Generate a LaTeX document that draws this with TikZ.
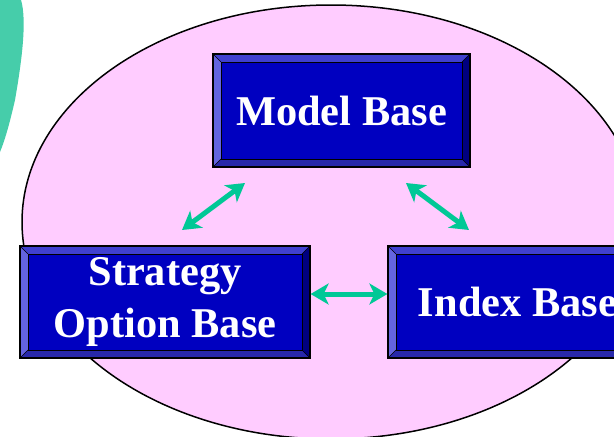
\documentclass[tikz,border=0pt]{standalone}
\usepackage{fontspec}
\setmainfont{Liberation Serif}
\usetikzlibrary{arrows.meta,calc}
\definecolor{pinkbg}{RGB}{255,204,255}
\definecolor{face}{RGB}{0,0,192}
\definecolor{bevT}{RGB}{64,64,208}
\definecolor{bevL}{RGB}{100,100,224}
\definecolor{bevR}{RGB}{0,0,128}
\definecolor{bevB}{RGB}{40,40,170}
\definecolor{arrowc}{RGB}{0,200,150}
\definecolor{splash}{RGB}{70,205,170}
\tikzset{
  bevelbox/.style={draw=black, line width=1.2pt, fill=face, text=white,
    font=\bfseries\fontsize{42.4}{52}\selectfont, align=center, inner sep=0pt,
    path picture={
      \coordinate (NW) at (path picture bounding box.north west);
      \coordinate (NE) at (path picture bounding box.north east);
      \coordinate (SW) at (path picture bounding box.south west);
      \coordinate (SE) at (path picture bounding box.south east);
      \coordinate (iNW) at ($(NW)+(8pt,-8pt)$);
      \coordinate (iNE) at ($(NE)+(-8pt,-8pt)$);
      \coordinate (iSW) at ($(SW)+(8pt,8pt)$);
      \coordinate (iSE) at ($(SE)+(-8pt,8pt)$);
      \fill[bevT] (NW) -- (NE) -- (iNE) -- (iNW) -- cycle;
      \fill[bevL] (NW) -- (SW) -- (iSW) -- (iNW) -- cycle;
      \fill[bevR] (NE) -- (SE) -- (iSE) -- (iNE) -- cycle;
      \fill[bevB] (SW) -- (SE) -- (iSE) -- (iSW) -- cycle;
      \draw[black, line width=0.9pt] (iNW) rectangle (iSE);
      \draw[black, line width=0.6pt] (NW) -- (iNW) (NE) -- (iNE) (SW) -- (iSW) (SE) -- (iSE);
    }},
  conn/.style={draw=arrowc, line width=5pt,
    {Stealth[length=18pt,width=21pt,inset=5pt]}-{Stealth[length=18pt,width=21pt,inset=5pt]}}
}
\begin{document}
\begin{tikzpicture}[x=1pt,y=-1pt]
\useasboundingbox (0,0) rectangle (614,437);
\clip (0,0) rectangle (614,437);
\fill[splash] (0,0) -- (21,0) .. controls (27,20) and (22,60) .. (15,100) .. controls (10,122) and (5,140) .. (0,152) -- cycle;
\draw[fill=pinkbg, line width=1.5pt] (331,222) ellipse [x radius=309, y radius=217];
\node[bevelbox, minimum width=257pt, minimum height=113pt] (model) at (341.5,110.5) {Model Base};
\node[bevelbox, minimum width=290pt, minimum height=112pt] (strat) at (165,302) {Strategy\\Option Base};
\node[bevelbox, minimum width=259pt, minimum height=112pt] (index) at (517.5,302) {Index Base};
\coordinate (a1s) at (182,230);
\coordinate (a1e) at (245,183);
\coordinate (a2s) at (406,183);
\coordinate (a2e) at (469,230);
\draw[conn] (a1s) -- (a1e);
\draw[conn] (a2s) -- (a2e);
\draw[conn] ([yshift=8pt]strat.east) -- ([yshift=8pt]index.west);
\end{tikzpicture}
\end{document}
